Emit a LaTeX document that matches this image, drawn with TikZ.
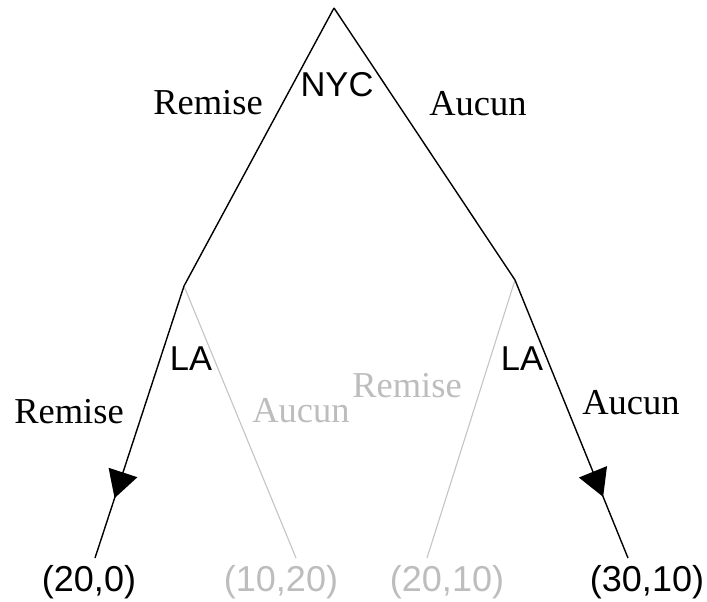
\documentclass[tikz,border=0pt]{standalone}
\usepackage{fontspec}
\setmainfont{Liberation Serif}
\newfontfamily\arialf{Liberation Sans}
\usetikzlibrary{arrows.meta,decorations.markings}
\definecolor{pale}{HTML}{C4C4C4}
\definecolor{paletext}{HTML}{BDBDBD}
\tikzset{
  x=1pt, y=-1pt,
  sanslbl/.style={inner sep=0pt, font=\arialf\fontsize{34.5}{38}\selectfont},
  payoff/.style={inner sep=0pt, font=\arialf\fontsize{36}{40}\selectfont},
  seriflbl/.style={inner sep=0pt, font=\fontsize{36.5}{40}\selectfont},
  chosen/.style={draw=black, line width=1.4pt},
  other/.style={draw=pale, line width=1.1pt},
  midarrow/.style={postaction={decorate, decoration={markings,
     mark=at position #1 with {\arrow{Triangle[length=27pt,width=30pt]}}}}}
}
\begin{document}
\begin{tikzpicture}
\useasboundingbox (0,0) rectangle (707,602);
% decision points
\coordinate (root) at (334,8);
\coordinate (la1) at (184,286);
\coordinate (la2) at (515,280);
\coordinate (e1) at (95,558);
\coordinate (e2) at (296,558);
\coordinate (e3) at (427,558);
\coordinate (e4) at (628,558);
% branches
\draw[chosen] (root) -- (la1);
\draw[chosen] (root) -- (la2);
\draw[other] (la1) -- (e2);
\draw[other] (la2) -- (e3);
\draw[chosen, midarrow=0.78] (la1) -- (e1);
\draw[chosen, midarrow=0.78] (la2) -- (e4);
% labels
\node[sanslbl] (nyc) at (337,85) {NYC};
\node[sanslbl] (laA) at (191,359) {LA};
\node[sanslbl] (laB) at (522,359) {LA};
\node[seriflbl] (r0) at (208,103) {Remise};
\node[seriflbl] (a0) at (478,104) {Aucun};
\node[seriflbl] (r1) at (69,412) {Remise};
\node[seriflbl, text=paletext] (a1) at (301,411) {Aucun};
\node[seriflbl, text=paletext] (r2) at (407,386) {Remise};
\node[seriflbl] (a2) at (631,403) {Aucun};
% payoffs
\node[payoff] (p1) at (89,582) {(20,0)};
\node[payoff, text=paletext] (p2) at (281,582) {(10,20)};
\node[payoff, text=paletext] (p3) at (447,582) {(20,10)};
\node[payoff] (p4) at (647,582) {(30,10)};
\end{tikzpicture}
\end{document}
